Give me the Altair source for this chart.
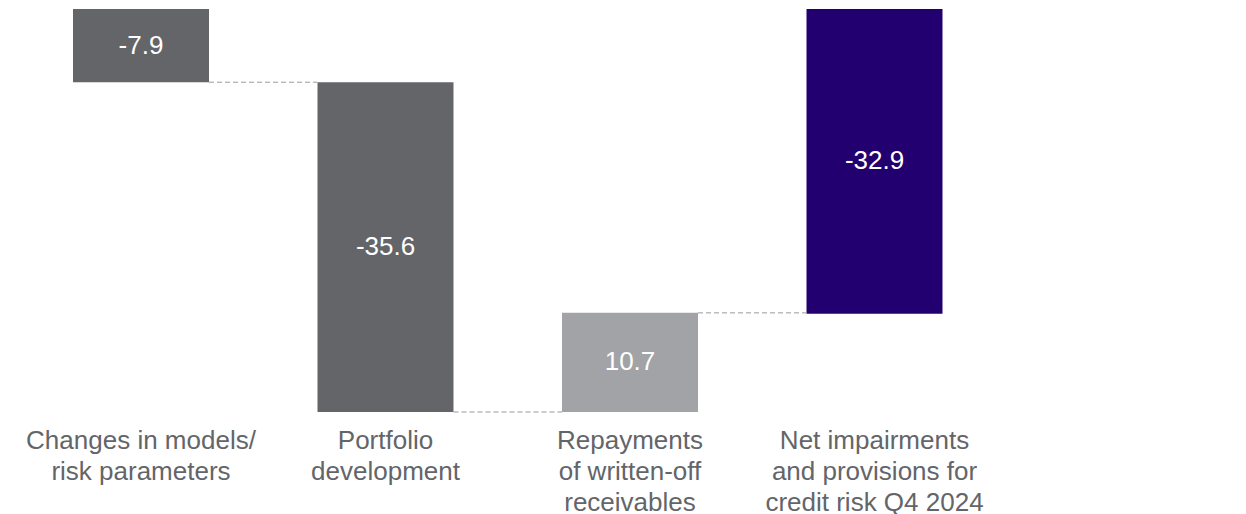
import altair as alt
import pandas as pd

categories = [
    "Changes in models/|risk parameters",
    "Portfolio|development",
    "Repayments|of written-off|receivables",
    "Net impairments|and provisions for|credit risk Q4 2024",
]
values = [-7.9, -35.6, 10.7, -32.9]
is_total = [False, False, False, True]
labels = ["-7.9", "-35.6", "10.7", "-32.9"]
bar_colors = ["#636569", "#636569", "#a2a3a6", "#22006f"]

rows = []
running = 0.0
for cat, v, tot, lab, col in zip(categories, values, is_total, labels, bar_colors):
    if tot:
        start, end = 0.0, v
    else:
        start, end = running, running + v
    running = end
    rows.append(dict(cat=cat, start=start, end=end, mid=(start + end) / 2,
                     label=lab, color=col))
df = pd.DataFrame(rows)

conn = []
for i in range(len(rows) - 1):
    conn.append(dict(cat=rows[i]["cat"], nxt=rows[i + 1]["cat"], level=rows[i]["end"]))
cdf = pd.DataFrame(conn)

xscale = alt.Scale(domain=categories, range=[10.75, 988.75], paddingInner=0.4438, paddingOuter=0.2219)
yscale = alt.Scale(domain=[-43.5, 0], range=[404, 1], nice=False, zero=False)

xaxis = alt.Axis(
    title=None, labelAngle=0, domain=False, ticks=False, grid=False,
    labelExpr="split(datum.label, '|')", labelFont="Liberation Sans",
    labelFontSize=26, labelColor="#636569", labelPadding=15, labelLineHeight=31,
    labelBaseline="top", labelAlign="center", labelLimit=0,
)

base = alt.Chart(df)

bars = base.mark_bar(cornerRadius=0).encode(
    x=alt.X("cat:N", scale=xscale, axis=xaxis, sort=categories),
    y=alt.Y("start:Q", scale=yscale, axis=None),
    y2="end:Q",
    color=alt.Color("color:N", scale=None),
)

text = base.mark_text(font="Liberation Sans", fontSize=26, color="white",
                      baseline="middle").encode(
    x=alt.X("cat:N", scale=xscale, sort=categories),
    y=alt.Y("mid:Q", scale=yscale),
    text="label:N",
)

connectors = alt.Chart(cdf).mark_rule(color="#9a9a9a", strokeDash=[5, 3], strokeWidth=1).encode(
    x=alt.X("cat:N", scale=xscale, bandPosition=1, sort=categories),
    x2=alt.X2("nxt:N", bandPosition=0),
    y=alt.Y("level:Q", scale=yscale),
)

chart = alt.layer(bars, connectors, text).properties(
    width=1230, height=404,
    autosize=alt.AutoSizeParams(type="none"),
    padding={"left": 0, "top": 0, "right": 0, "bottom": 108},
).configure_view(stroke=None)

chart.save("out.html", embed_options={"renderer": "svg", "actions": False})
